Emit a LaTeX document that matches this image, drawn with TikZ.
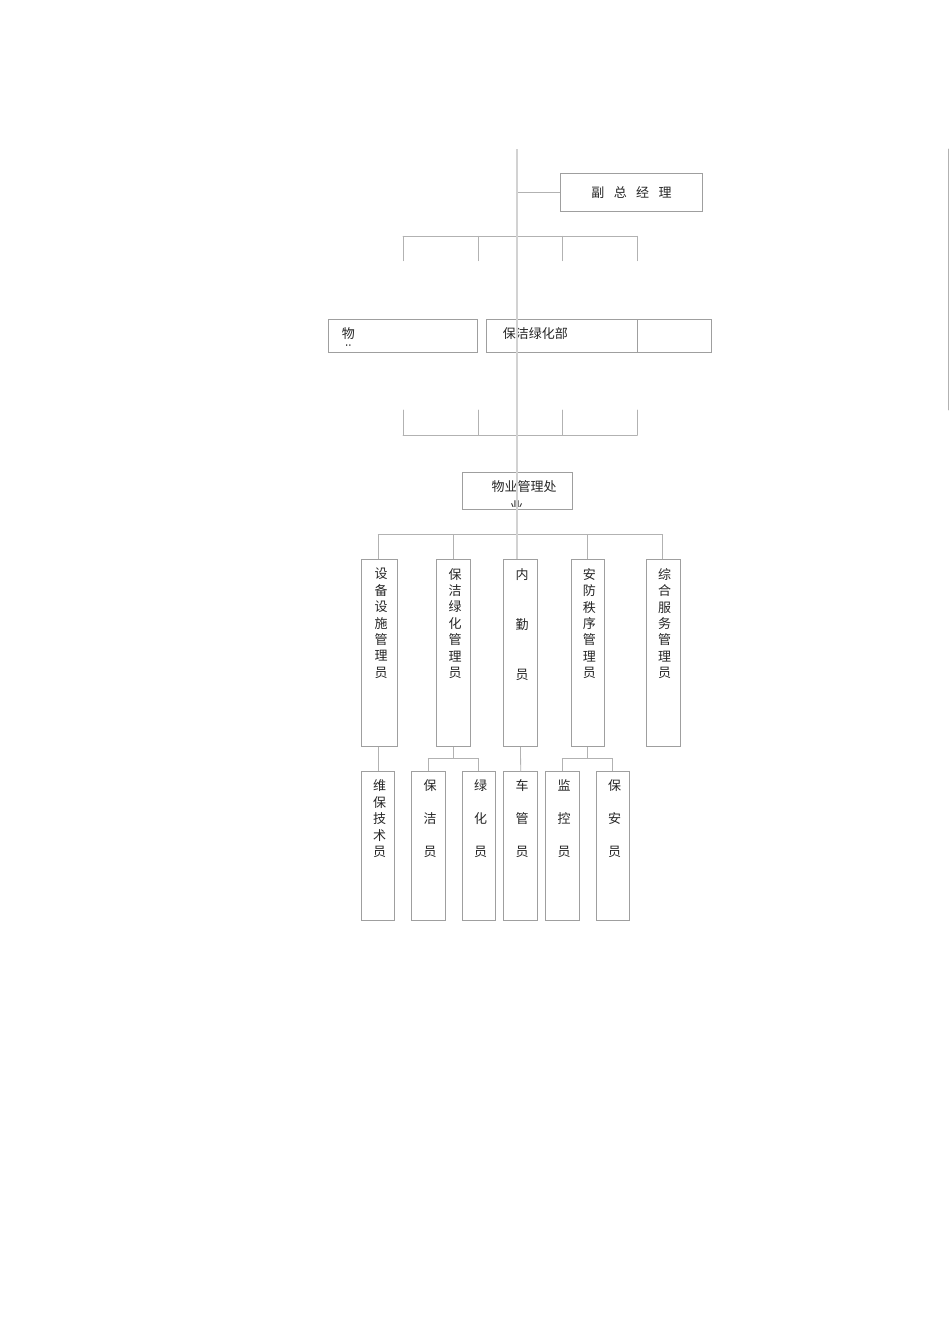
\documentclass[tikz,border=0pt]{standalone}
\usepackage{fontspec}
\newfontfamily\cjk{Noto Sans CJK SC}
\usepackage{tkz-euclide}
\tikzset{
	box/.style={draw=gray!75, line width=0.8pt, inner sep=0pt, rectangle},
	link/.style={draw=gray!60, line width=0.8pt},
	spine/.style={draw=gray!35, line width=1.4pt},
	ctext/.style={font=\cjk\fontsize{13}{16.4}\selectfont, text=black!85, inner sep=0pt},
	vtext/.style={ctext, align=center, anchor=north, xshift=1.5pt}
}
\begin{document}
\begin{tikzpicture}[x=1pt, y=-1pt]
	\useasboundingbox (0,0) rectangle (950,1344);
	\node[box, ctext, minimum width=141.6pt, minimum height=37.3pt] (fzjl) at (631.5,192.3) {副\hspace{9.4pt}总\hspace{9.4pt}经\hspace{9.4pt}理};
	\node[box, minimum width=149pt, minimum height=32.7pt] (wy) at (402.8,335.7) {};
	\node[box, minimum width=150.6pt, minimum height=32.7pt] (bjlh) at (562,335.7) {};
	\node[box, minimum width=74.4pt, minimum height=32.7pt] (kb) at (674.5,335.7) {};
	\node[ctext] (wyt) at (348.3,333.3) {物};
	\begin{scope}
		\clip (338,340) rectangle (358,345.8);
		\node[ctext] (wyc) at (348.3,350.6) {业};
	\end{scope}
	\node[ctext] (bjlht) at (535.3,333.3) {保洁绿化部};
	\node[box, minimum width=110.3pt, minimum height=37pt] (wygl) at (517.2,490.8) {};
	\node[ctext] (wyglt) at (524,486.7) {物业管理处};
	\begin{scope}
		\clip (505,495) rectangle (530,506);
		\node[ctext] (wyglc) at (516.7,506) {业};
	\end{scope}
	% level three
	\node[box, minimum width=35.6pt, minimum height=187.4pt] (sb) at (379.5,653) {};
	\node[box, minimum width=33.6pt, minimum height=187.4pt] (bjgl) at (453.5,653) {};
	\node[box, minimum width=33.6pt, minimum height=187.4pt] (nq) at (520.5,653) {};
	\node[box, minimum width=33.7pt, minimum height=187.4pt] (af) at (587.8,653) {};
	\node[box, minimum width=33.7pt, minimum height=187.4pt] (zh) at (663.2,653) {};
	\node[vtext, below=9.2pt of sb.north] (sbt) {设\\备\\设\\施\\管\\理\\员};
	\node[vtext, below=9.2pt of bjgl.north] (bjglt) {保\\洁\\绿\\化\\管\\理\\员};
	\node[vtext, below=9.2pt of nq.north] (nqt) {内\\[33.6pt]勤\\[33.6pt]员};
	\node[vtext, below=9.2pt of af.north] (aft) {安\\防\\秩\\序\\管\\理\\员};
	\node[vtext, below=9.2pt of zh.north] (zht) {综\\合\\服\\务\\管\\理\\员};
	% level four
	\node[box, minimum width=33pt, minimum height=148.6pt] (wb) at (378.2,846) {};
	\node[box, minimum width=34pt, minimum height=148.6pt] (bj) at (428.7,846) {};
	\node[box, minimum width=33.4pt, minimum height=148.6pt] (lh) at (479,846) {};
	\node[box, minimum width=34pt, minimum height=148.6pt] (cg) at (520.7,846) {};
	\node[box, minimum width=34pt, minimum height=148.6pt] (jk) at (562.7,846) {};
	\node[box, minimum width=33.4pt, minimum height=148.6pt] (ba) at (613,846) {};
	\node[vtext, below=8.5pt of wb.north] (wbt) {维\\保\\技\\术\\员};
	\node[vtext, below=8.5pt of bj.north] (bjt) {保\\[16.6pt]洁\\[16.6pt]员};
	\node[vtext, below=8.5pt of lh.north] (lht) {绿\\[16.6pt]化\\[16.6pt]员};
	\node[vtext, below=8.5pt of cg.north] (cgt) {车\\[16.6pt]管\\[16.6pt]员};
	\node[vtext, below=8.5pt of jk.north] (jkt) {监\\[16.6pt]控\\[16.6pt]员};
	\node[vtext, below=8.5pt of ba.north] (bat) {保\\[16.6pt]安\\[16.6pt]员};
	% bars
	\tkzDefPoint(517,149){t}
	\tkzDefPoint(517,192.3){tj}
	\tkzDefPoint(403,236.3){a1}
	\tkzDefPoint(478.3,236.3){a2}
	\tkzDefPoint(562.3,236.3){a3}
	\tkzDefPoint(637.3,236.3){a4}
	\tkzDefPoint(403,260.7){a5}
	\tkzDefPoint(478.3,260.7){a6}
	\tkzDefPoint(562.3,260.7){a7}
	\tkzDefPoint(637.3,260.7){a8}
	\tkzDefPoint(403,435){b1}
	\tkzDefPoint(478.3,435){b2}
	\tkzDefPoint(562.3,435){b3}
	\tkzDefPoint(637.3,435){b4}
	\tkzDefPoint(403,410){b5}
	\tkzDefPoint(478.3,410){b6}
	\tkzDefPoint(562.3,410){b7}
	\tkzDefPoint(637.3,410){b8}
	\tkzDefPoint(378.3,534.3){c1}
	\tkzDefPoint(662.7,534.3){c2}
	\tkzDefPoint(453.3,534.3){c3}
	\tkzDefPoint(587.3,534.3){c4}
	\tkzDefPoint(428.3,758.3){d1}
	\tkzDefPoint(478.3,758.3){d2}
	\tkzDefPoint(562.3,758.3){e1}
	\tkzDefPoint(612.3,758.3){e2}
	\tkzDefPoint(948,149){r1}
	\tkzDefPoint(948,410){r2}
	\tkzDrawSegments[link](a1,a4 a1,a5 a2,a6 a3,a7 a4,a8)
	\tkzDrawSegments[link](b1,b4 b1,b5 b2,b6 b3,b7 b4,b8)
	\tkzDrawSegments[link](c1,c2 d1,d2 e1,e2 r1,r2)
	\draw[link] (tj) -- (fzjl.west);
	\draw[link] (c1) -- (c1 |- sb.north);
	\draw[link] (c3) -- (c3 |- bjgl.north);
	\draw[link] (c4) -- (c4 |- af.north);
	\draw[link] (c2) -- (c2 |- zh.north);
	\draw[link] (wb.north) -- (wb.north |- sb.south);
	\draw[link] (bjgl.south) -- (bjgl.south |- d1);
	\draw[link] (d1) -- (d1 |- bj.north);
	\draw[link] (d2) -- (d2 |- lh.north);
	\draw[link] (nq.south) -- (cg.north);
	\draw[link] (af.south) -- (af.south |- e1);
	\draw[link] (e1) -- (e1 |- jk.north);
	\draw[link] (e2) -- (e2 |- ba.north);
	\draw[spine] (t) -- (t |- nq.north);
\end{tikzpicture}
\end{document}
